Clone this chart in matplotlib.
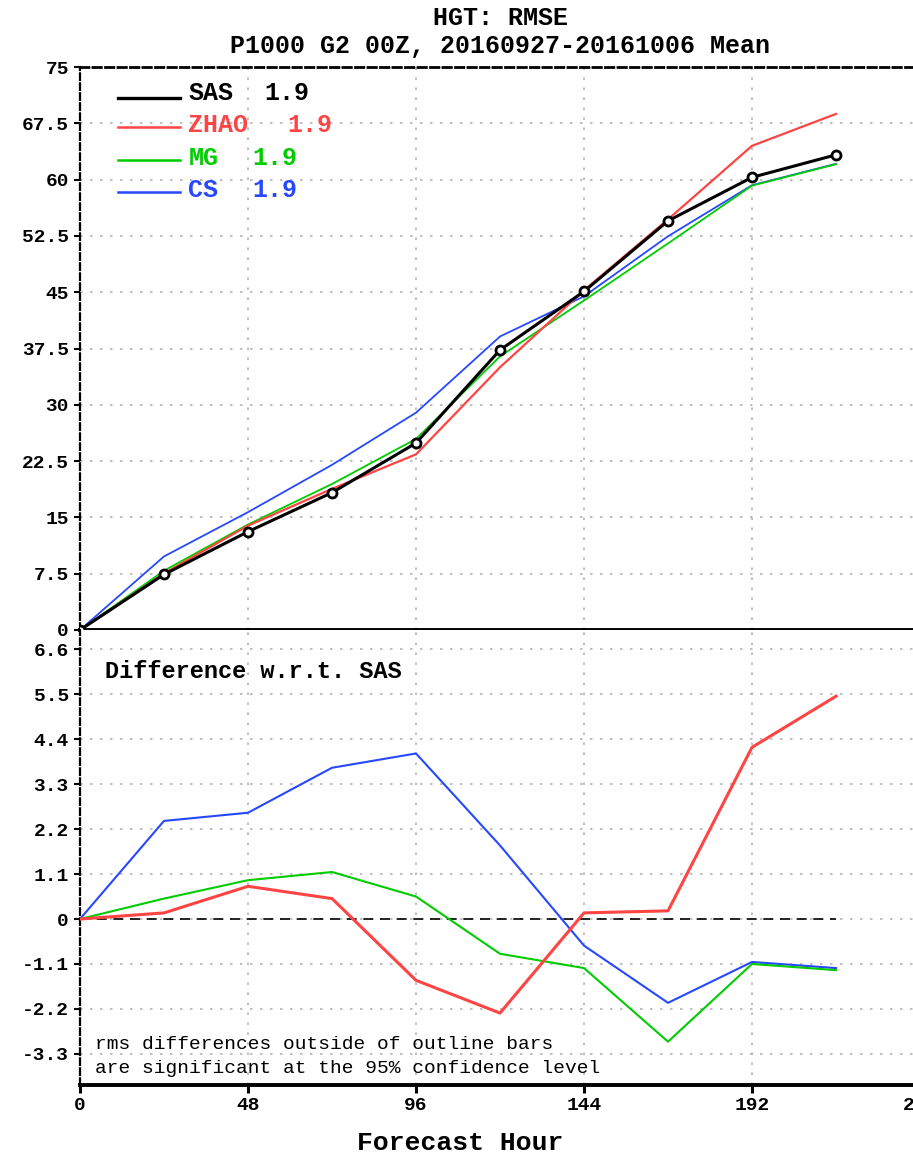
import matplotlib
matplotlib.use("Agg")
import matplotlib.pyplot as plt

# Forecast hours (every 24 h)
hours = [0, 24, 48, 72, 96, 120, 144, 168, 192, 216]

# RMSE of 1000 hPa height for each scheme
rmse_sas = [0, 7.4, 13.1, 18.3, 24.9, 37.3, 45.1, 54.5, 60.3, 63.3]
rmse_zhao = [0, 7.55, 13.9, 18.8, 23.4, 35.0, 45.25, 54.7, 64.5, 68.75]
rmse_mg = [0, 7.9, 14.05, 19.45, 25.45, 36.45, 43.9, 51.5, 59.2, 62.05]
rmse_cs = [0, 9.8, 15.7, 22.0, 28.95, 39.1, 44.45, 52.45, 59.25, 62.1]

# Differences relative to SAS
diff_zhao = [0, 0.15, 0.8, 0.5, -1.5, -2.3, 0.15, 0.2, 4.2, 5.45]
diff_mg = [0, 0.5, 0.95, 1.15, 0.55, -0.85, -1.2, -3.0, -1.1, -1.25]
diff_cs = [0, 2.4, 2.6, 3.7, 4.05, 1.8, -0.65, -2.05, -1.05, -1.2]

legend_names = ["SAS", "ZHAO", "MG", "CS"]
legend_scores = ["1.9", "1.9", "1.9", "1.9"]

x_ticks = [0, 48, 96, 144, 192, 240]
top_yticks = [0, 7.5, 15, 22.5, 30, 37.5, 45, 52.5, 60, 67.5, 75]
top_ylabels = ["0", "7.5", "15", "22.5", "30", "37.5", "45", "52.5", "60", "67.5", "75"]
bot_yticks = [-3.3, -2.2, -1.1, 0, 1.1, 2.2, 3.3, 4.4, 5.5, 6.6]
bot_ylabels = ["-3.3", "-2.2", "-1.1", "0", "1.1", "2.2", "3.3", "4.4", "5.5", "6.6"]

C_SAS = "#000000"
C_ZHAO = "#ff4444"
C_MG = "#00cc00"
C_CS = "#2648ff"
GRID = "#b4b4b4"

FONT = "Liberation Mono"

W, H = 913, 1158
fig = plt.figure(figsize=(W / 100, H / 100), dpi=100)

left = 80 / W
width = (920 - 80) / W
ax1 = fig.add_axes([left, 1 - 630 / H, width, (630 - 67) / H])
ax2 = fig.add_axes([left, 1 - 1085 / H, width, (1085 - 630) / H])


def style_axes(ax, yticks, ylabels):
    ax.set_xlim(0, 240)
    ax.set_xticks(x_ticks)
    ax.set_yticks(yticks)
    ax.set_yticklabels(ylabels, fontfamily=FONT, fontweight="bold", fontsize=14)
    ax.grid(True, color=GRID, linestyle=(0, (1.5, 4.5)), linewidth=1.2)
    ax.tick_params(axis="y", direction="out", length=4, width=1.5, pad=4)
    ax.tick_params(axis="x", direction="out", length=6, width=2.2, pad=3)
    ax.spines["right"].set_visible(False)
    ax.spines["left"].set_linestyle((0, (3, 1.5)))
    ax.spines["left"].set_linewidth(1.6)


# ---- RMSE panel ----
style_axes(ax1, top_yticks, top_ylabels)
ax1.set_ylim(0, 75)
ax1.tick_params(axis="x", length=0, labelbottom=False)
ax1.spines["top"].set_linestyle((0, (3, 1.5)))
ax1.spines["top"].set_linewidth(2.0)
ax1.spines["bottom"].set_linewidth(2.8)

ax1.plot(hours, rmse_cs, color=C_CS, lw=1.3, zorder=3)
ax1.plot(hours, rmse_mg, color=C_MG, lw=1.3, zorder=3)
ax1.plot(hours, rmse_zhao, color=C_ZHAO, lw=1.6, zorder=3)
ax1.plot(hours, rmse_sas, color=C_SAS, lw=2.2, marker="o", ms=6.5,
         mfc="white", mec=C_SAS, mew=2, zorder=4)

legend_colors = [C_SAS, C_ZHAO, C_MG, C_CS]
legend_widths = [2.4, 1.8, 1.8, 1.8]
line_y = [0.945, 0.893, 0.835, 0.778]
text_y = [0.954, 0.897, 0.838, 0.781]
score_x = [0.220, 0.247, 0.205, 0.205]
for name, score, col, lw, ly, ty, sx in zip(legend_names, legend_scores, legend_colors,
                                             legend_widths, line_y, text_y, score_x):
    ax1.plot([0.045, 0.119], [ly, ly], color=col, lw=lw, transform=ax1.transAxes,
             clip_on=False, zorder=5)
    ax1.text(0.129, ty, name, color=col, transform=ax1.transAxes,
             fontfamily=FONT, fontweight="bold", fontsize=18, va="center", ha="left")
    ax1.text(sx, ty, score, color=col, transform=ax1.transAxes,
             fontfamily=FONT, fontweight="bold", fontsize=18, va="center", ha="left")

# ---- Difference panel ----
style_axes(ax2, bot_yticks, bot_ylabels)
ax2.set_ylim(-4.06, 7.07)
ax2.spines["top"].set_visible(False)
ax2.spines["bottom"].set_linewidth(2.8)
ax2.set_xticklabels([str(t) for t in x_ticks], fontfamily=FONT,
                    fontweight="bold", fontsize=14)

ax2.plot([hours[0], hours[-1]], [0, 0], color="black", lw=1.2,
         linestyle=(0, (6, 4)), zorder=3)
ax2.plot(hours, diff_cs, color=C_CS, lw=1.5, zorder=4)
ax2.plot(hours, diff_mg, color=C_MG, lw=1.5, zorder=4)
ax2.plot(hours, diff_zhao, color=C_ZHAO, lw=2.2, zorder=4)

ax2.text(0.030, 0.908, "Difference w.r.t. SAS", transform=ax2.transAxes,
         fontfamily=FONT, fontweight="bold", fontsize=17, va="center", ha="left")
ax2.text(0.018, 0.088, "rms differences outside of outline bars",
         transform=ax2.transAxes, fontfamily=FONT, fontsize=14, va="center", ha="left")
ax2.text(0.018, 0.037, "are significant at the 95% confidence level",
         transform=ax2.transAxes, fontfamily=FONT, fontsize=14, va="center", ha="left")

# ---- titles ----
fig.text(500 / W, 1 - 18 / H, "HGT: RMSE", fontfamily=FONT, fontweight="bold",
         fontsize=18, ha="center", va="center")
fig.text(500 / W, 1 - 46 / H, "P1000 G2 00Z, 20160927-20161006 Mean", fontfamily=FONT,
         fontweight="bold", fontsize=18, ha="center", va="center")
fig.text(460 / W, 1 - 1143 / H, "Forecast Hour", fontfamily=FONT, fontweight="bold",
         fontsize=19, ha="center", va="center")

fig.savefig("out.png", dpi=100)
